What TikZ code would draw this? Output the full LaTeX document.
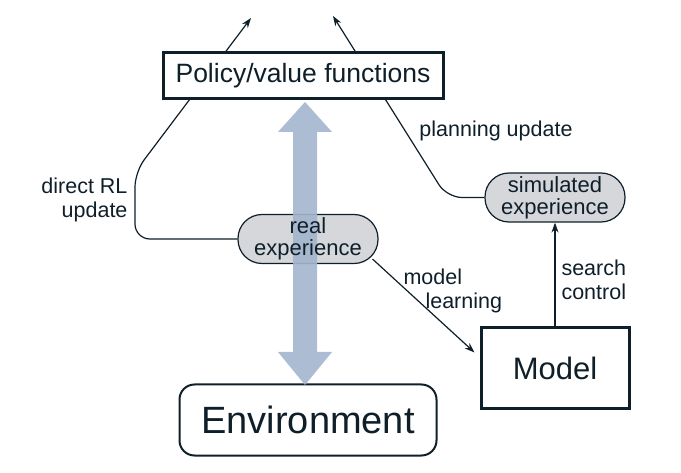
\documentclass[tikz,border=0pt]{standalone}
\usepackage{fontspec}
\setmainfont{Liberation Sans}
\usepackage{xcolor}
\usetikzlibrary{arrows.meta, positioning, calc}
\definecolor{ink}{HTML}{0F1F2A}
\definecolor{barblue}{HTML}{A3B5CD}
\definecolor{pillgrey}{HTML}{D5D7DA}
\tikzset{
    box/.style={rectangle, draw=ink, line width=3pt, fill=white, text=ink},
    envbox/.style={rectangle, draw=ink, line width=2pt, rounded corners=15pt, fill=white, text=ink},
    pill/.style={rectangle, draw=ink, line width=1.2pt, rounded corners=24pt, fill=pillgrey, minimum width=140pt, minimum height=49pt},
    pilltext/.style={align=center, text=ink, font=\fontsize{22}{22}\selectfont},
    lbl/.style={text=ink, font=\fontsize{21.5}{24}\selectfont},
    flow/.style={draw=ink, line width=1.2pt, rounded corners=15pt, -{Stealth[length=10pt, width=7pt]}},
    bigarrow/.style={fill=barblue, fill opacity=0.9}
}
\begin{document}
\begin{tikzpicture}[x=1pt, y=-1pt]
    \useasboundingbox (0,0) rectangle (681,473);

    % Boxes
    \node[envbox, minimum width=257pt, minimum height=71pt, font=\fontsize{38}{38}\selectfont] (env) at (308,420) {Environment};
    \node[box, minimum width=148pt, minimum height=81pt, font=\fontsize{31}{31}\selectfont] (model) at (555,368.5) {Model};

    % Experience
    \node[pill] (sim) at (555,197.5) {};
    \node[pilltext] at (sim) {simulated\\experience};
    \node[pill] (real) at (308,239) {};

    % Acting
    \fill[bigarrow] (305,102) -- (332,132) -- (317,132) -- (317,352) -- (332,352)
        -- (305,385) -- (278,352) -- (293,352) -- (293,132) -- (278,132) -- cycle;
    \node[pilltext] at (real) {real\\experience};

    % Updates
    \coordinate (dirtip) at (251,18);
    \coordinate (plantip) at (333,16);
    \draw[flow] (real.west) -- (135,239) -- (135,172) -- (dirtip);
    \draw[flow] (sim.west) -- (447,197.5) -- (plantip);
    \draw[flow, rounded corners=0pt] ([shift={(-6,-5)}]real.south east) -- ([shift={(-5,-16)}]model.west);
    \draw[flow, rounded corners=0pt] (model.north) -- (sim.south);

    \node[box, minimum width=280pt, minimum height=46pt, font=\fontsize{26.5}{26.5}\selectfont] (policy) at (303,76) {Policy/value functions};

    % Labels
    \node[lbl, align=right, anchor=east] (dirlbl) at (131,200) {direct RL\\update};
    \node[lbl] (planlbl) at (496,131) {planning update};
    \node[lbl, align=left, anchor=north west] (mllbl) at (400,265) {model\\\hspace*{22pt}learning};
    \node[lbl, align=left, anchor=west] (searchlbl) at (558,280) {search\\control};
\end{tikzpicture}
\end{document}
